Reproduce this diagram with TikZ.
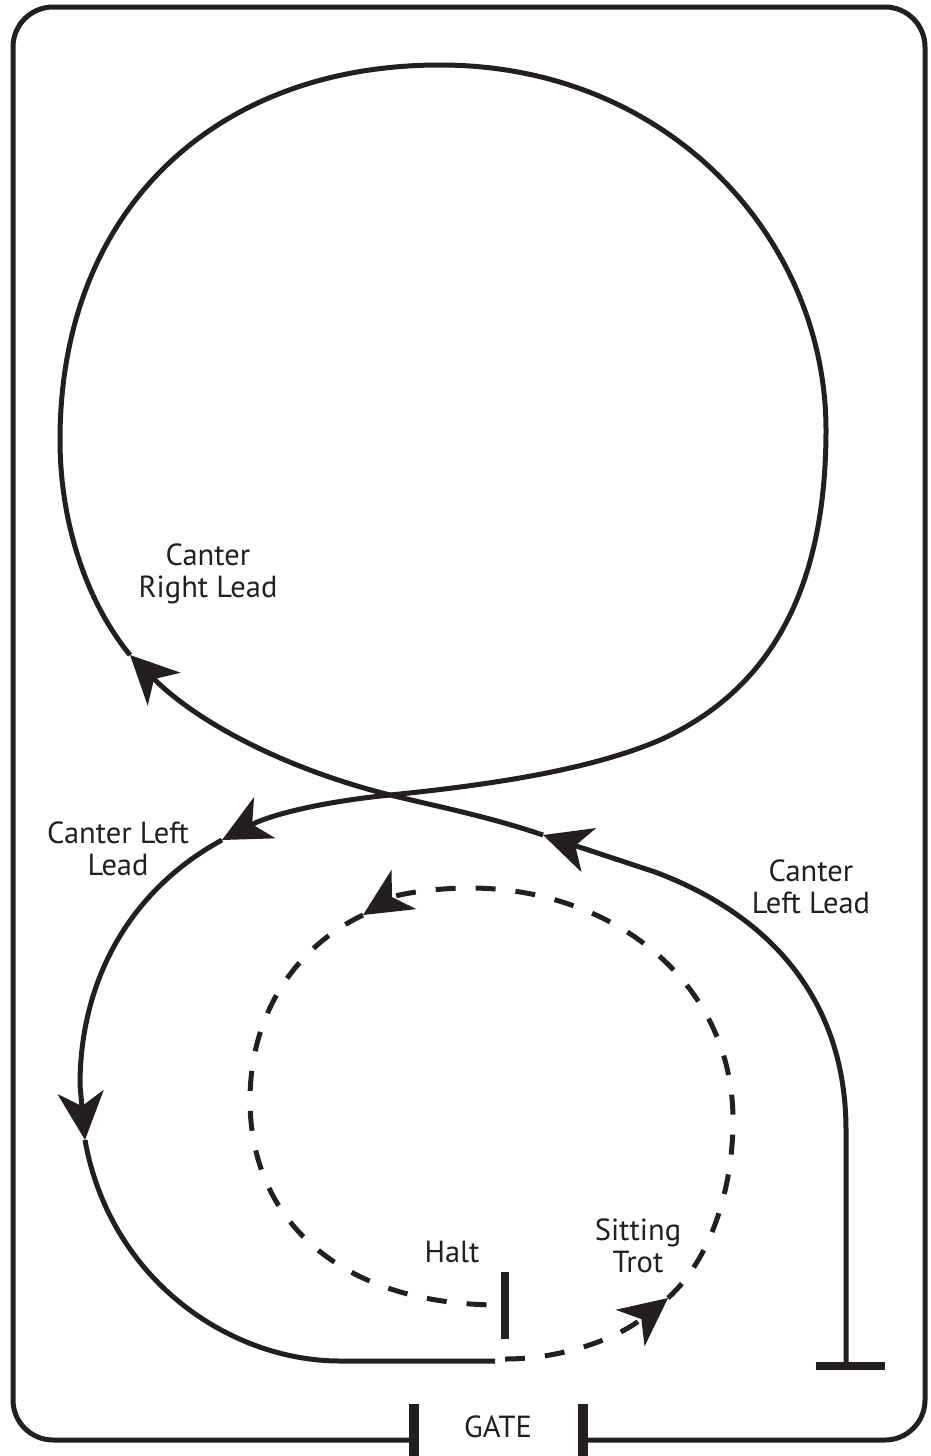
\documentclass[tikz,border=0pt]{standalone}
\usepackage{fontspec}
\setmainfont{PT Sans}
\usepackage{xcolor}
\usetikzlibrary{arrows.meta}
\definecolor{ink}{HTML}{231F20}
\tikzset{
  route/.style={draw=ink,line width=5pt},
  trot/.style={route,dash pattern=on 20pt off 20pt},
  headed/.style={-{Stealth[length=48pt,width=46pt,inset=14pt,color=ink]}},
  barline/.style={draw=ink,line width=10pt},
  tag/.style={font=\fontsize{30.5}{32}\selectfont,text=ink,align=center,inner sep=0pt}
}
\begin{document}
\begin{tikzpicture}[x=1pt,y=-1pt]
  \useasboundingbox (0,0) rectangle (931,1456);
  % way points
  \coordinate (start) at (846,1365);
  \coordinate (bend) at (846,1130);
  \coordinate (tipA) at (543,835);
  \coordinate (cross) at (390,795);
  \coordinate (tipB) at (130,655);
  \coordinate (west) at (60,440);
  \coordinate (north) at (440,65);
  \coordinate (east) at (826,430);
  \coordinate (tipC) at (222,840);
  \coordinate (tipD) at (85,1140);
  \coordinate (floor) at (340,1361);
  \coordinate (halfway) at (495,1361);
  \coordinate (dashfrom) at (505,1359);
  \coordinate (tipE) at (668,1298);
  \coordinate (tipF) at (363,915);
  \coordinate (halt) at (500,1305);
  % arena
  \draw[draw=ink,line width=5pt,rounded corners=40pt] (413,1440) -- (13,1440) -- (13,7) -- (925,7) -- (925,1440) -- (583,1440);
  \draw[barline] (414,1404) -- (414,1456);
  \draw[barline] (583,1404) -- (583,1456);
  \draw[barline,line width=8pt] (505,1272) -- (505,1339);
  \draw[barline,line width=8pt] (816,1366) -- (885,1366);
  % canter
  \draw[route,headed] (start) -- (bend) .. controls (846,1000) and (770,915) .. (655,872) -- (tipA);
  \draw[route,headed] (tipA) .. controls (490,817) and (440,807) .. (cross) .. controls (290,770) and (200,725) .. (tipB);
  \draw[route,headed] (tipB) .. controls (85,600) and (60,520) .. (west) .. controls (60,210) and (215,65) .. (north)
    .. controls (670,65) and (826,240) .. (east) .. controls (826,590) and (770,690) .. (660,740)
    .. controls (590,770) and (490,785) .. (cross) .. controls (320,802) and (270,815) .. (tipC);
  \draw[route,headed] (tipC) .. controls (130,890) and (80,980) .. (80,1085) -- (tipD);
  \draw[route] (tipD) .. controls (110,1280) and (230,1361) .. (floor) -- (halfway);
  % trot
  \draw[trot,headed] (dashfrom) .. controls (560,1359) and (615,1340) .. (tipE);
  \draw[trot,headed] (tipE) .. controls (710,1260) and (733,1190) .. (733,1120) .. controls (733,980) and (610,888) .. (470,888) .. controls (430,888) and (395,895) .. (tipF);
  \draw[trot] (tipF) .. controls (290,950) and (250,1020) .. (250,1100) .. controls (250,1220) and (340,1305) .. (halt);
  % labels
  \node[tag] (rightlead) at (208,574) {Canter\\Right Lead};
  \node[tag] (leftlead) at (118,849) {Canter Left\\Lead};
  \node[tag] (entrylead) at (811,887) {Canter\\Left Lead};
  \node[tag] (halttag) at (452,1252) {Halt};
  \node[tag] (trottag) at (638,1246) {Sitting\\Trot};
  \node[tag] (gatetag) at (498,1427) {GATE};
\end{tikzpicture}
\end{document}
